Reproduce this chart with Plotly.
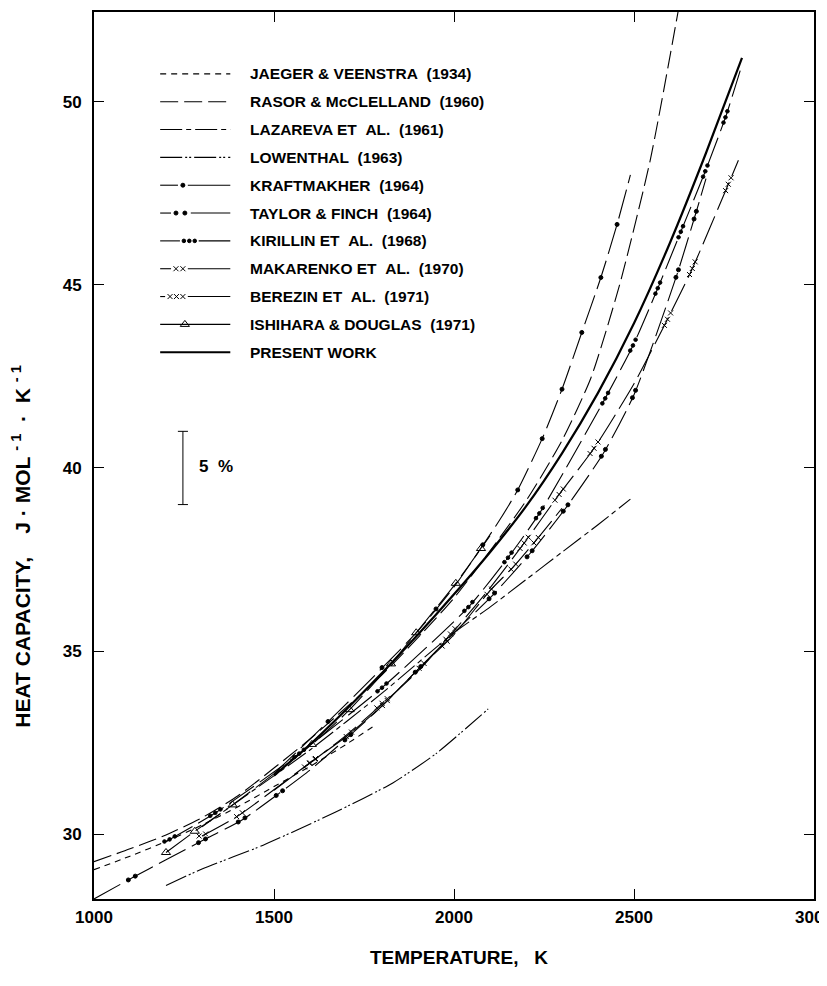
import numpy as np
import plotly.graph_objects as go

# ---------------- data ----------------
x_ticks = [1000, 1500, 2000, 2500, 3000]
y_ticks = [30, 35, 40, 45, 50]

jaeger_T = [1000, 1100, 1200, 1300, 1400, 1500, 1600, 1700, 1785]
jaeger_Cp = [29.03, 29.40, 29.80, 30.25, 30.75, 31.30, 31.85, 32.45, 33.00]

rasor_T = [1000, 1100, 1200, 1300, 1400, 1600, 1800, 2000, 2200, 2300, 2380, 2460, 2545, 2625]
rasor_Cp = [29.25, 29.60, 29.98, 30.45, 31.05, 32.60, 34.35, 36.45, 39.10, 40.75, 42.45,
            45.00, 48.40, 52.60]

lazareva_T = [1300, 1400, 1600, 1800, 2000, 2100, 2200, 2300, 2400, 2490]
lazareva_Cp = [30.20, 30.90, 32.30, 33.85, 35.50, 36.20, 36.95, 37.70, 38.45, 39.15]

lowenthal_T = [1200, 1300, 1470, 1670, 1830, 1950, 2095]
lowenthal_Cp = [28.60, 29.05, 29.70, 30.60, 31.40, 32.20, 33.42]

kraft_T = [1500, 1700, 1900, 2000, 2125, 2177, 2245, 2300, 2355, 2408, 2453, 2490]
kraft_Cp = [31.65, 33.55, 35.55, 36.75, 38.55, 39.40, 40.80, 42.15, 43.70, 45.20, 46.65, 48.00]
kraft_dots_T = [1650, 1800, 1950, 2080, 2177, 2245, 2300, 2355, 2408, 2453]

taylor_T = [1000, 1110, 1200, 1300, 1410, 1515, 1600, 1700, 1800, 1900, 2000, 2105, 2210,
            2310, 2415, 2500, 2620, 2670, 2700]
taylor_Cp = [28.23, 28.83, 29.30, 29.82, 30.38, 31.12, 31.75, 32.60, 33.50, 34.50, 35.50,
             36.50, 37.65, 38.90, 40.40, 42.00, 45.30, 46.90, 47.90]
taylor_dots_T = [1105, 1300, 1410, 1515, 1705, 1900, 2105, 2210, 2310, 2415, 2500, 2620, 2670]

kirillin_T = [1200, 1340, 1570, 1800, 2040, 2150, 2240, 2420, 2500, 2570, 2630, 2700, 2755, 2795]
kirillin_Cp = [29.80, 30.60, 32.20, 34.00, 36.20, 37.55, 38.80, 41.90, 43.40, 45.00, 46.45,
               48.15, 49.60, 50.85]
kirillin_dots_T = [1210, 1337, 1570, 1800, 2040, 2150, 2237, 2420, 2497, 2566, 2630, 2698, 2754]

makarenko_T = [1300, 1400, 1600, 1700, 1800, 1900, 2000, 2100, 2165, 2230, 2300]
makarenko_Cp = [29.95, 30.50, 31.95, 32.66, 33.50, 34.50, 35.45, 36.65, 37.30, 38.05, 38.90]
makarenko_x_T = [1301, 1404, 1606, 1708, 1808, 1910, 1974, 2098, 2165, 2228]

berezin_T = [1500, 1700, 1900, 2090, 2195, 2290, 2390, 2500, 2590, 2660, 2760, 2790]
berezin_Cp = [31.20, 32.70, 34.45, 36.60, 37.95, 39.25, 40.55, 42.30, 44.00, 45.40, 47.70, 48.40]
berezin_x_T = [1600, 1800, 1990, 2195, 2292, 2389, 2593, 2662, 2762]

ishihara_T = [1200, 1280, 1385, 1605, 1710, 1825, 1895, 2005, 2075, 2100]
ishihara_Cp = [29.50, 30.08, 30.80, 32.45, 33.40, 34.65, 35.50, 36.85, 37.80, 38.15]

present_T = [1500, 1600, 1700, 1800, 1900, 2000, 2100, 2200, 2300, 2400, 2500, 2600, 2700, 2800]
present_Cp = [31.60, 32.45, 33.40, 34.40, 35.45, 36.55, 37.70, 38.95, 40.40, 42.05, 43.95,
              46.15, 48.60, 51.20]

legend_labels = [
    "JAEGER &amp; VEENSTRA\u00a0\u00a0(1934)",
    "RASOR &amp; McCLELLAND\u00a0\u00a0(1960)",
    "LAZAREVA ET\u00a0\u00a0AL.\u00a0\u00a0(1961)",
    "LOWENTHAL\u00a0\u00a0(1963)",
    "KRAFTMAKHER\u00a0\u00a0(1964)",
    "TAYLOR &amp; FINCH\u00a0\u00a0(1964)",
    "KIRILLIN ET\u00a0\u00a0AL.\u00a0\u00a0(1968)",
    "MAKARENKO ET\u00a0\u00a0AL.\u00a0\u00a0(1970)",
    "BEREZIN ET\u00a0\u00a0AL.\u00a0\u00a0(1971)",
    "ISHIHARA &amp; DOUGLAS\u00a0\u00a0(1971)",
    "PRESENT WORK",
]

# ---------------- layout geometry ----------------
W, H = 827, 986
L_PX, R_PX, T_PX, B_PX = 86, 815, 2, 891
X_RANGE = [1000, 3000]
Y_RANGE = [28.23, 52.45]
PX_PER_K = (R_PX - L_PX) / (X_RANGE[1] - X_RANGE[0])
PX_PER_U = (B_PX - T_PX) / (Y_RANGE[1] - Y_RANGE[0])

FONT = "Liberation Sans, Arial, Helvetica, sans-serif"
THIN = 1.1
NB = "\u00a0"


def along(T, C, centers, n, spacing_px):
    """place n glyphs along the curve around each centre temperature"""
    xs, ys = [], []
    for tc in centers:
        d = 5.0
        s = (np.interp(tc + d, T, C) - np.interp(tc - d, T, C)) / (2 * d)
        per_k = np.hypot(PX_PER_K, s * PX_PER_U)
        step = spacing_px / per_k
        for k in range(n):
            t = tc + (k - (n - 1) / 2) * step
            xs.append(t)
            ys.append(float(np.interp(t, T, C)))
    return xs, ys


fig = go.Figure()


def curve(T, C, dash="solid", width=THIN):
    fig.add_trace(go.Scatter(x=T, y=C, mode="lines", line=dict(color="black", width=width,
                             dash=dash, shape="spline", smoothing=0.6),
                             showlegend=False, hoverinfo="skip", cliponaxis=True))


def glyphs(xs, ys, symbol, size, lw=1.0):
    fig.add_trace(go.Scatter(x=xs, y=ys, mode="markers",
                             marker=dict(symbol=symbol, size=size, color="black",
                                         line=dict(color="black", width=lw)),
                             showlegend=False, hoverinfo="skip"))


DASH_J = "6px,5px"
DASH_R = "18px,6px"
DASH_LZ = "22px,4px,5px,4px"
DASH_LW = "22px,3px,2px,2px,2px,3px"
DASH_M = "30px,7px"

curve(jaeger_T, jaeger_Cp, DASH_J)
curve(rasor_T, rasor_Cp, DASH_R)
curve(lazareva_T, lazareva_Cp, DASH_LZ)
curve(lowenthal_T, lowenthal_Cp, DASH_LW)
curve(kraft_T, kraft_Cp, DASH_M)
curve(taylor_T, taylor_Cp, DASH_M)
curve(kirillin_T, kirillin_Cp, DASH_M)
curve(makarenko_T, makarenko_Cp, DASH_M)
curve(berezin_T, berezin_Cp, DASH_M)
curve(ishihara_T, ishihara_Cp, DASH_M)
curve(present_T, present_Cp, width=2.2)

x, y = along(kraft_T, kraft_Cp, kraft_dots_T, 1, 0)
glyphs(x, y, "circle", 4)
x, y = along(taylor_T, taylor_Cp, taylor_dots_T, 2, 8)
glyphs(x, y, "circle", 4)
x, y = along(kirillin_T, kirillin_Cp, kirillin_dots_T, 3, 6)
glyphs(x, y, "circle", 3.6)
x, y = along(makarenko_T, makarenko_Cp, makarenko_x_T, 2, 7)
glyphs(x, y, "x-thin-open", 5)
x, y = along(berezin_T, berezin_Cp, berezin_x_T, 3, 7)
glyphs(x, y, "x-thin-open", 5)
fig.add_trace(go.Scatter(x=ishihara_T[:-1], y=ishihara_Cp[:-1], mode="markers",
                         marker=dict(symbol="triangle-up-open", size=8, color="black",
                                     line=dict(color="black", width=1)),
                         showlegend=False, hoverinfo="skip"))

# 5 % scale bar (39 .. 41)
BAR_T = 1247
fig.add_shape(type="line", x0=BAR_T, x1=BAR_T, y0=39, y1=41, line=dict(color="black", width=1))
fig.add_shape(type="line", x0=BAR_T - 14, x1=BAR_T + 14, y0=39, y1=39, line=dict(color="black", width=1))
fig.add_shape(type="line", x0=BAR_T - 14, x1=BAR_T + 14, y0=41, y1=41, line=dict(color="black", width=1))
fig.add_annotation(x=1285, y=40.05, text="5" + NB + NB + "%", showarrow=False, xanchor="left",
                   yanchor="middle",
                   font=dict(family=FONT, size=17, color="black", weight="bold"))

# ---------------- legend drawn in pixel space (x2 / y2) ----------------
rows = [64 + 27.9 * i for i in range(11)]
LX0, LX1, TX = 153, 224, 242


def seg(x0, x1, yy, dash="solid", width=THIN):
    fig.add_trace(go.Scatter(x=[x0, x1], y=[yy, yy], xaxis="x2", yaxis="y2", mode="lines",
                             line=dict(color="black", width=width, dash=dash),
                             showlegend=False, hoverinfo="skip"))


def lmark(xs, yy, symbol, size):
    fig.add_trace(go.Scatter(x=xs, y=[yy] * len(xs), xaxis="x2", yaxis="y2", mode="markers",
                             marker=dict(symbol=symbol, size=size, color="black",
                                         line=dict(color="black", width=1)),
                             showlegend=False, hoverinfo="skip"))


seg(LX0, LX1, rows[0], DASH_J)
seg(LX0, LX1, rows[1], DASH_R)
seg(LX0, LX1, rows[2], DASH_LZ)
seg(LX0, LX1, rows[3], DASH_LW)
seg(LX0, 171, rows[4]); seg(181, LX1, rows[4]); lmark([176], rows[4], "circle", 4)
seg(LX0, 164, rows[5]); seg(184, LX1, rows[5]); lmark([169, 178], rows[5], "circle", 4)
seg(LX0, 173, rows[6]); seg(192, LX1, rows[6]); lmark([177, 182.5, 188], rows[6], "circle", 3.6)
seg(LX0, 164, rows[7]); seg(181, LX1, rows[7]); lmark([169, 176], rows[7], "x-thin-open", 5)
seg(LX0, 158, rows[8]); seg(181, LX1, rows[8]); lmark([163, 169.5, 176], rows[8], "x-thin-open", 5)
seg(LX0, LX1, rows[9]); lmark([178], rows[9], "triangle-up-open", 8)
seg(LX0, LX1, rows[10], width=2.2)

for lab, yy in zip(legend_labels, rows):
    fig.add_annotation(x=TX, y=yy, xref="x2", yref="y2", text=lab, showarrow=False,
                       xanchor="left", yanchor="middle",
                       font=dict(family=FONT, size=15.5, color="black", weight="bold"))

# axis titles (paper coordinates)
pw, ph = R_PX - L_PX, B_PX - T_PX
ytitle = ("HEAT CAPACITY," + NB * 4 + "J" + NB + "·" + NB + "MOL" + NB + "<sup>-" + NB + "1</sup>"
          + NB * 2 + "·" + NB * 2 + "K" + NB + "<sup>-" + NB + "1</sup>")
fig.add_annotation(x=(12 - L_PX) / pw, y=(B_PX - 537) / ph, xref="paper", yref="paper",
                   xanchor="center", yanchor="middle",
                   textangle=-90, showarrow=False, text=ytitle,
                   font=dict(family=FONT, size=21, color="black", weight="bold"))
fig.add_annotation(x=(456 - L_PX) / pw, y=(B_PX - 950) / ph, xref="paper", yref="paper",
                   xanchor="center", yanchor="middle", showarrow=False,
                   text="TEMPERATURE," + NB * 3 + "K",
                   font=dict(family=FONT, size=19, color="black", weight="bold"))

axis_common = dict(showline=True, linewidth=2, linecolor="black", mirror="ticks",
                   ticks="inside", ticklen=10, tickwidth=1, tickcolor="black",
                   showgrid=False, zeroline=False, ticklabeloverflow="allow",
                   tickfont=dict(family=FONT, size=17, color="black", weight="bold"))

fig.update_layout(
    width=W, height=H,
    margin=dict(l=L_PX, r=W - R_PX, t=T_PX, b=H - B_PX, pad=0),
    paper_bgcolor="white", plot_bgcolor="white",
    showlegend=False,
    xaxis=dict(range=X_RANGE, tickvals=x_ticks, ticklabelstandoff=2, **axis_common),
    yaxis=dict(range=Y_RANGE, tickvals=y_ticks, ticklabelstandoff=7, **axis_common),
    xaxis2=dict(range=[L_PX, R_PX], overlaying="x", visible=False, anchor="y2"),
    yaxis2=dict(range=[B_PX, T_PX], overlaying="y", visible=False, anchor="x2"),
)

fig.write_html("out.html")
